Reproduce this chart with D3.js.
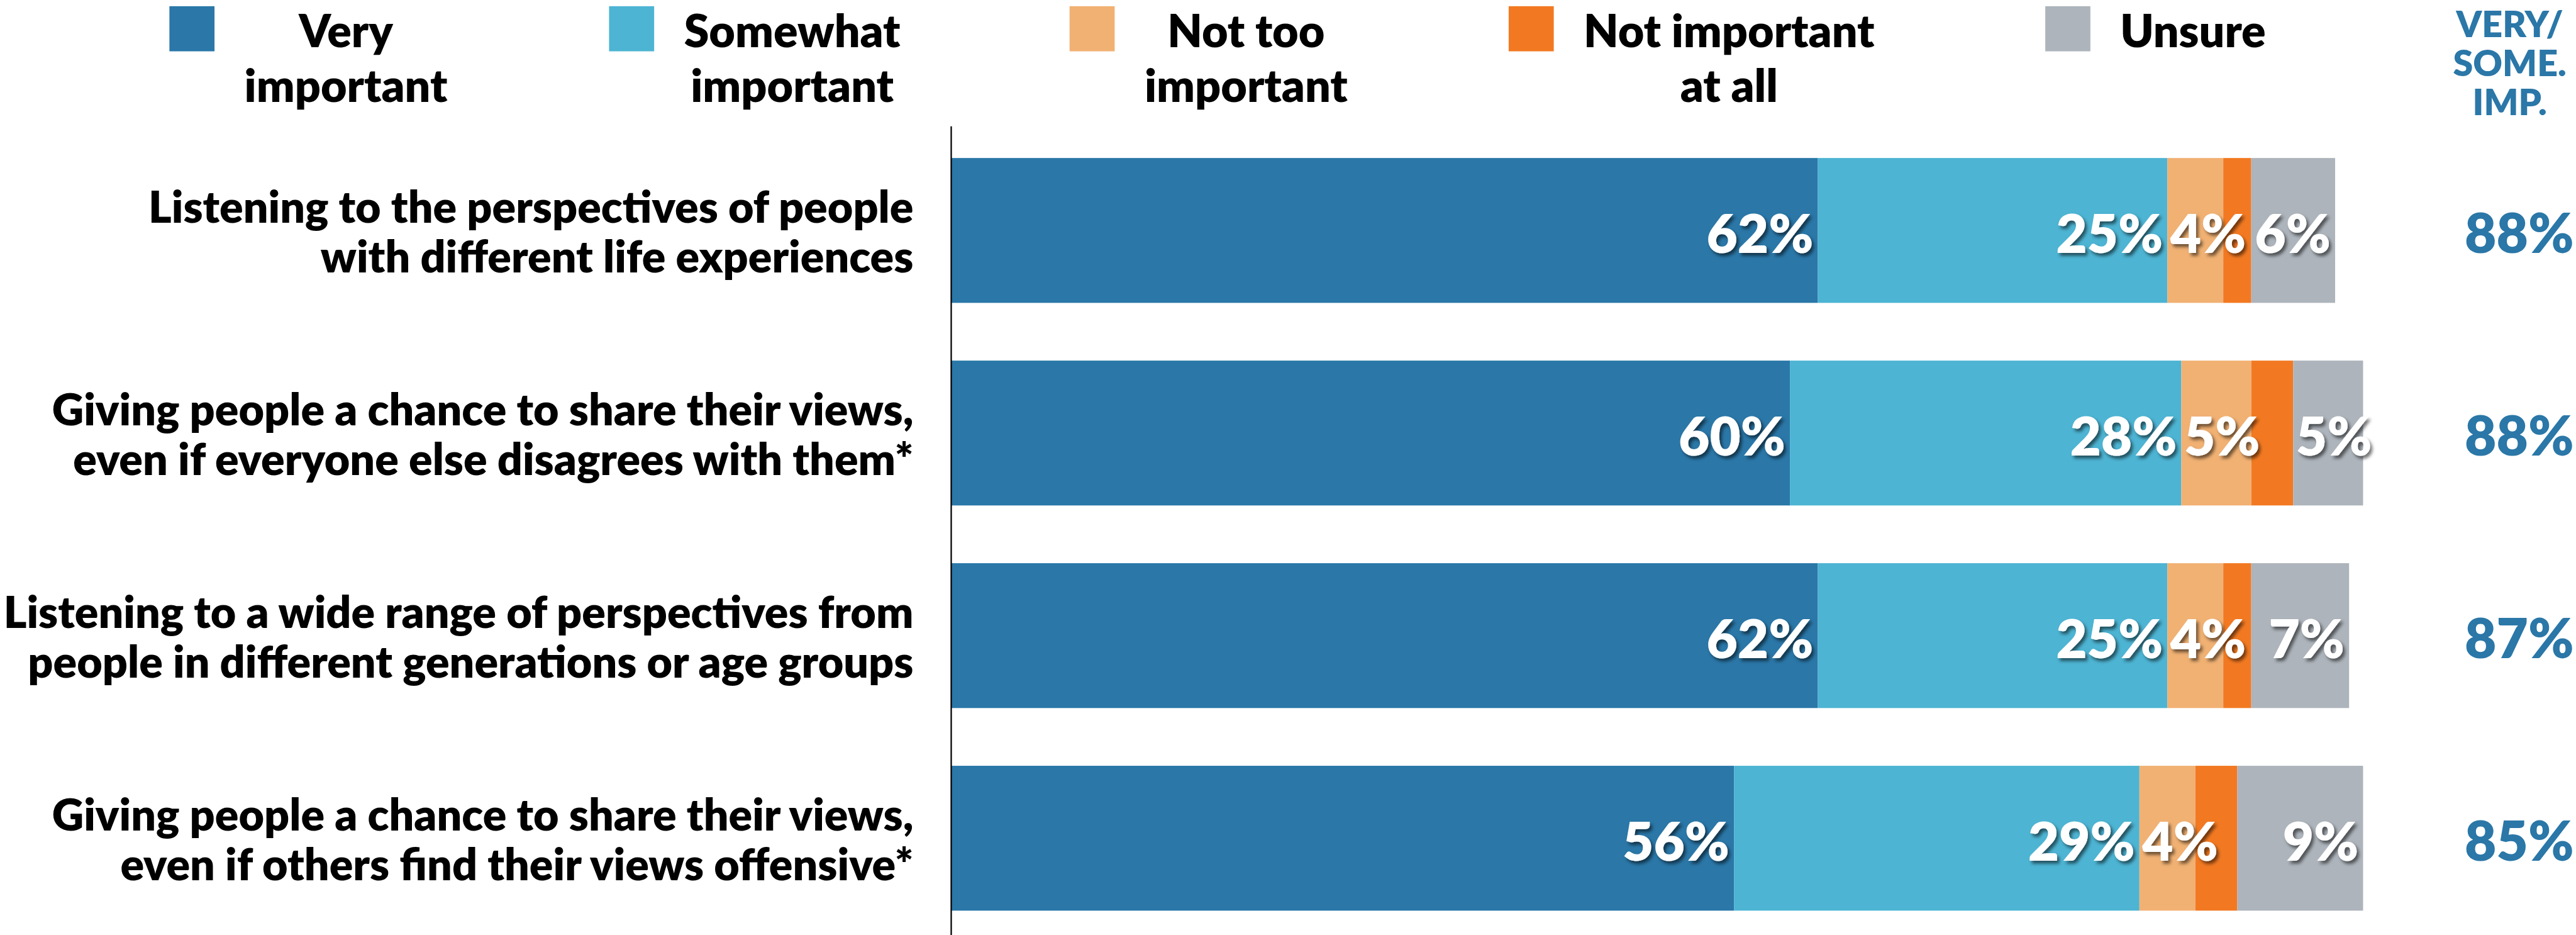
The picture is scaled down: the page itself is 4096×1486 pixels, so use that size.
<!DOCTYPE html>
<html>
<head>
<meta charset="utf-8">
<script src="https://cdn.jsdelivr.net/npm/d3@7"></script>
<style>
  html, body { margin: 0; padding: 0; background: #ffffff; overflow: hidden; }
  svg { display: block; }
  text { font-family: Lato, "Open Sans", sans-serif; font-weight: 800; }
</style>
</head>
<body>
<svg id="chart" width="4096" height="1486" viewBox="0 0 4569 1658"></svg>
<script>
// ---- data ----
const categoryLines = [
  ["Listening to the perspectives of people", "with different life experiences"],
  ["Giving people a chance to share their views,", "even if everyone else disagrees with them*"],
  ["Listening to a wide range of perspectives from", "people in different generations or age groups"],
  ["Giving people a chance to share their views,", "even if others find their views offensive*"]
];
const seriesKeys = ["very", "somewhat", "notToo", "notAtAll", "unsure"];
const legendLines = [["Very", "important"], ["Somewhat", "important"], ["Not too", "important"], ["Not important", "at all"], ["Unsure"]];
const veryImportant     = [62, 60, 62, 56];
const somewhatImportant = [25, 28, 25, 29];
const notTooImportant   = [4, 5, 4, 4];
const notImportantAtAll = [2, 3, 2, 3];
const unsure            = [6, 5, 7, 9];
const veryOrSomewhat    = [88, 88, 87, 85];
const totalHeader = ["VERY/", "SOME.", "IMP."];
const showValue = [true, true, true, false, true];   // the thin "not at all" slice carries no label

// ---- styling / layout ----
const colors = ["#2a77a8", "#4db4d3", "#f1b173", "#f27922", "#adb4bb"];
const accent = "#2a77a8";
const W = 4569, H = 1658;
const svg = d3.select("#chart");

const defs = svg.append("defs");
const shadow = defs.append("filter").attr("id", "valShadow")
  .attr("x", "-20%").attr("y", "-20%").attr("width", "150%").attr("height", "160%");
shadow.append("feDropShadow").attr("dx", 4).attr("dy", 5).attr("stdDeviation", 3)
  .attr("flood-color", "#000").attr("flood-opacity", 0.55);

const rows = categoryLines.map((c, i) => ({
  idx: i,
  very: veryImportant[i], somewhat: somewhatImportant[i], notToo: notTooImportant[i],
  notAtAll: notImportantAtAll[i], unsure: unsure[i]
}));

const x = d3.scaleLinear().domain([0, 100]).range([1687, 4167]);
const y = d3.scaleBand().domain(rows.map(r => r.idx)).range([229, 1666])
  .paddingInner(0.285).paddingOuter(0.1425);

const stacked = d3.stack().keys(seriesKeys)(rows);

// bars
const layers = svg.append("g").selectAll("g").data(stacked).join("g")
  .attr("fill", (d, i) => colors[i]);
layers.selectAll("rect").data(d => d).join("rect")
  .attr("x", d => x(d[0]))
  .attr("y", d => y(d.data.idx))
  .attr("width", d => x(d[1]) - x(d[0]))
  .attr("height", y.bandwidth());

// vertical axis line
const axis = svg.append("g").attr("transform", `translate(${x(0)},0)`)
  .call(d3.axisLeft(y).tickSize(0).tickFormat(""));
axis.select(".domain").attr("stroke", "#000").attr("stroke-width", 2.5)
  .attr("d", `M0,224V${H}`);

// value labels inside segments
const pad = 8;
const valueG = svg.append("g").attr("filter", "url(#valShadow)");
stacked.forEach((layer, li) => {
  if (!showValue[li]) return;
  layer.forEach(d => {
    const v = d[1] - d[0];
    const cy = y(d.data.idx) + y.bandwidth() / 2;
    const t = valueG.append("text")
      .attr("text-anchor", "end")
      .attr("y", cy + 40)
      .attr("font-size", 95)
      .attr("fill", "#fff")
      .text(v + "%");
    const w = t.node().getComputedTextLength();
    const xEnd = Math.max(x(d[1]) - pad, x(d[0]) + pad - 3 + w);
    t.attr("x", xEnd);
  });
});

// category labels
const catG = svg.append("g");
rows.forEach((r, i) => {
  const cy = y(r.idx) + y.bandwidth() / 2;
  const t = catG.append("text").attr("text-anchor", "end").attr("font-size", 78).attr("fill", "#000");
  categoryLines[i].forEach((line, k) => {
    t.append("tspan").attr("x", 1620).attr("y", cy - 14 + k * 88).text(line);
  });
});

// combined very/somewhat column
const totG = svg.append("g").attr("fill", accent);
totG.append("text").attr("text-anchor", "middle").attr("font-size", 64)
  .selectAll("tspan").data(totalHeader).join("tspan")
  .attr("x", 4452).attr("y", (d, i) => 66 + i * 69).text(d => d);
rows.forEach((r, i) => {
  const cy = y(r.idx) + y.bandwidth() / 2;
  totG.append("text").attr("text-anchor", "middle").attr("x", 4469).attr("y", cy + 40)
    .attr("font-size", 97).text(veryOrSomewhat[i] + "%");
});

// legend
const legendX = [300, 1080, 1897, 2676, 3628];
const legendG = svg.append("g");
legendLines.forEach((lines, i) => {
  const g = legendG.append("g").attr("transform", `translate(${legendX[i]},0)`);
  g.append("rect").attr("x", 0).attr("y", 11).attr("width", 80).attr("height", 80).attr("fill", colors[i]);
  const t = g.append("text").attr("font-size", 80).attr("fill", "#000").attr("text-anchor", "middle");
  const spans = lines.map((line, k) => t.append("tspan").attr("y", 84 + k * 97).text(line));
  const bw = d3.max(spans, s => s.node().getComputedTextLength());
  spans.forEach(s => s.attr("x", 80 + 53 + bw / 2));
});
</script>
</body>
</html>
